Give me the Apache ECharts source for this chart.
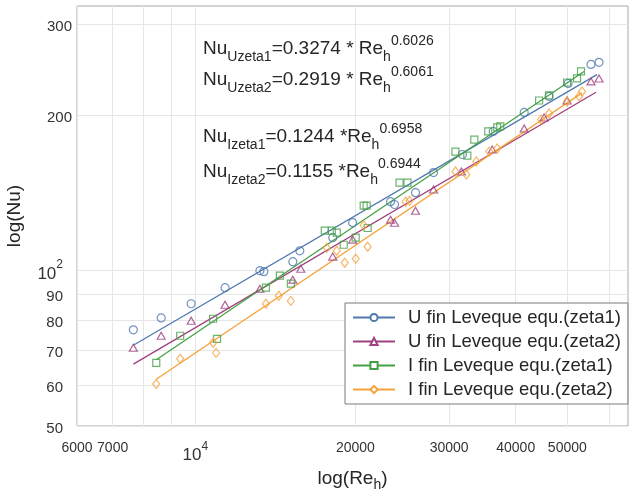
<!DOCTYPE html>
<html><head><meta charset="utf-8">
<script src="https://cdn.jsdelivr.net/npm/echarts@6/dist/echarts.min.js"></script>
<style>html,body{margin:0;padding:0;background:#fff}#c{width:633px;height:489px}</style>
</head><body><div id="c"></div>
<script>
// ---- data ----
const seriesNames = ['U fin Leveque equ.(zeta1)','U fin Leveque equ.(zeta2)','I fin Leveque equ.(zeta1)','I fin Leveque equ.(zeta2)'];

const reU1 = [7655,8635,9829,11381,13232,13462,15257,15725,18132,19765,23281,23687,25935,28035,31761,36290,41495,46213,50165,55389,57338];
const nuU1 = [76.8,81.0,86.3,92.7,100.0,99.6,104.1,109.3,115.9,123.9,136.1,134.4,141.7,155.0,168.0,186.2,202.7,217.8,230.7,251.2,253.5];

const reU2 = [7655,8635,9829,11381,13232,15257,15793,18132,19765,23281,23687,25935,28035,31623,36140,41495,45224,49946,55389,57338];
const nuU2 = [70.9,74.8,80.0,85.9,92.3,96.1,100.9,106.5,114.9,125.6,123.9,130.7,143.7,155.7,171.8,188.7,198.2,213.8,232.8,235.9];

const reI1 = [8453,9374,10807,10995,13581,14426,15126,17518,18056,18449,19011,20022,20726,20995,21086,24206,25054,30823,32448,33441,35522,36922,37411,44259,46213,49946,52141,53053];
const nuI1 = [66.3,74.8,80.7,73.8,92.7,97.8,94.4,119.6,119.6,118.5,112.3,115.9,133.7,133.7,121.0,148.2,148.2,170.2,167.2,179.6,186.2,189.6,190.4,213.8,218.8,231.7,235.9,243.4];

const reI2 = [8453,9374,10807,10947,13581,14363,15126,17671,18449,19095,20022,20726,21086,24838,25269,30823,32314,33734,35669,36922,44640,46213,49946,52602,53285];
const nuI2 = [60.3,67.5,72.5,69.3,86.3,89.4,87.4,110.8,109.3,103.6,105.5,122.5,111.3,136.1,136.7,155.7,153.6,162.8,170.2,172.6,196.4,201.8,212.9,217.8,222.6];

// fitted power-law lines (end points)
const fitReU1 = [7655, 56850]; const fitNuU1 = [71.7, 240.0];
const fitReU2 = [7655, 56600]; const fitNuU2 = [65.9, 221.8];
const fitReI1 = [8453, 53730]; const fitNuI1 = [67.2, 243.3];
const fitReI2 = [8453, 53280]; const fitNuI2 = [61.6, 221.2];

// ticks
const xGridTicks = [6000,7000,8000,9000,10000,20000,30000,40000,50000,60000];
const xTickLabels = [6000,7000,10000,20000,30000,40000,50000];
const yGridTicks = [50,60,70,80,90,100,200,300];
const yTickLabels = [50,60,70,80,90,100,200,300];

// equation annotations
const eqSub = ['Uzeta1','Uzeta2','Izeta1','Izeta2'];
const eqCoef = ['0.3274','0.2919','0.1244','0.1155'];
const eqOp = [' * ',' * ',' *',' *'];
const eqExp = ['0.6026','0.6061','0.6958','0.6944'];

// ---- styling ----
const colors = ['#4f78ad','#a0407e','#45a045','#f5a33d'];
const symbols = ['circle','triangle','rect','diamond'];
const symSizes = [8,[8,7],7,[7,9]];
const FONT = 'Liberation Sans, Arial, sans-serif';

function zip(a,b){ return a.map((v,i)=>[v,b[i]]); }
const pts = [zip(reU1,nuU1), zip(reU2,nuU2), zip(reI1,nuI1), zip(reI2,nuI2)];
const fits = [zip(fitReU1,fitNuU1), zip(fitReU2,fitNuU2), zip(fitReI1,fitNuI1), zip(fitReI2,fitNuI2)];

const series = [];
for (let i=0;i<4;i++){
  series.push({
    name: seriesNames[i], type:'line', data: fits[i], showSymbol:false,
    symbol: 'empty' + symbols[i].charAt(0).toUpperCase() + symbols[i].slice(1),
    lineStyle:{color:colors[i], width:1.3}, itemStyle:{color:colors[i]},
    silent:true, animation:false, z:2
  });
}
for (let i=0;i<4;i++){
  series.push({
    name: seriesNames[i], type:'scatter', data: pts[i],
    symbol: symbols[i], symbolSize: symSizes[i],
    itemStyle:{color:'rgba(255,255,255,0)', borderColor:colors[i], borderWidth:1.2},
    animation:false, z:3
  });
}

const graphics = [];
const eqY = [34, 65, 122, 157];
for (let i=0;i<4;i++){
  graphics.push({
    type:'text', x:203, y:eqY[i], z:10,
    style:{
      text: '{n|Nu}{s|' + eqSub[i] + '}{n|=' + eqCoef[i] + eqOp[i] + 'Re}{s|h}{p|' + eqExp[i] + '}',
      fill:'#262626', fontFamily: FONT, align:'left', verticalAlign:'top',
      rich:{
        n:{fontSize:19, lineHeight:30, verticalAlign:'middle', fontFamily:FONT, fill:'#262626'},
        s:{fontSize:14, lineHeight:16, verticalAlign:'bottom', fontFamily:FONT, fill:'#262626'},
        p:{fontSize:14, lineHeight:16, verticalAlign:'top', fontFamily:FONT, fill:'#262626'}
      }
    }
  });
}

const option = {
  animation:false,
  backgroundColor:'#fff',
  grid:{left:77, right:5, top:6, bottom:63, show:true, borderColor:'#a8a8a8', borderWidth:1,
        containLabel:false, outerBoundsMode:'none'},
  xAxis:{
    type:'log', logBase:10, min:6000, max:65000,
    name:'{a|log(Re}{s|h}{a|)}', nameLocation:'middle', nameGap:34,
    nameTextStyle:{rich:{
      a:{fontSize:19, lineHeight:28, verticalAlign:'middle', fontFamily:FONT, color:'#262626'},
      s:{fontSize:14, lineHeight:14, verticalAlign:'bottom', fontFamily:FONT, color:'#262626'}
    }},
    axisLine:{show:false}, axisTick:{show:false, customValues:xGridTicks},
    splitLine:{show:true, lineStyle:{color:'#e6e6e6', width:1}},
    minorSplitLine:{show:false},
    axisLabel:{
      customValues:xTickLabels, margin:15, color:'#333',
      formatter:function(v){ const r=Math.round(v); if (Math.abs(r-10000)<1) return '{st| }{big|10}{sup|4}'; return '{n|'+r+'}'; },
      rich:{
        n:{fontSize:14, lineHeight:14, fontFamily:FONT, color:'#333'},
        st:{fontSize:1, lineHeight:23, verticalAlign:'middle'},
        big:{fontSize:17, lineHeight:17, verticalAlign:'bottom', fontFamily:FONT, color:'#333'},
        sup:{fontSize:12, lineHeight:12, verticalAlign:'top', fontFamily:FONT, color:'#333'}
      }
    }
  },
  yAxis:{
    type:'log', logBase:10, min:50, max:326,
    name:'log(Nu)', nameLocation:'middle', nameGap:43,
    nameTextStyle:{fontSize:19, lineHeight:22, fontFamily:FONT, color:'#262626'},
    axisLine:{show:false}, axisTick:{show:false, customValues:yGridTicks},
    splitLine:{show:true, lineStyle:{color:'#e6e6e6', width:1}},
    axisLabel:{
      customValues:yTickLabels, margin:5, color:'#333',
      formatter:function(v){ const r=Math.round(v); if (r===100) return '{st| }{big|10}{sup|2}'; if (r>=200) return '{n|'+r+'}'; return '{p|'+r+'}'; },
      rich:{
        n:{fontSize:15, lineHeight:15, fontFamily:FONT, color:'#333', padding:[5,0,0,0]},
        p:{fontSize:15, lineHeight:15, fontFamily:FONT, color:'#333', padding:[5,9,0,0]},
        st:{fontSize:1, lineHeight:24, verticalAlign:'middle'},
        big:{fontSize:17, lineHeight:4, verticalAlign:'bottom', fontFamily:FONT, color:'#333'},
        sup:{fontSize:12, lineHeight:22, verticalAlign:'top', fontFamily:FONT, color:'#333', padding:[0,9,0,0]}
      }
    }
  },
  legend:{
    data: seriesNames, orient:'vertical', left:345, top:303,
    padding:[5,7,5,7], itemWidth:42, itemHeight:9, itemGap:5,
    borderColor:'#7a7a7a', borderWidth:1, backgroundColor:'#fff',
    formatter:function(name){ return '{a|' + name + '}'; },
    textStyle:{fontSize:18.5, fontFamily:FONT, color:'#262626',
      rich:{a:{fontSize:18.5, fontFamily:FONT, color:'#262626', padding:[0,0,0,8]}}},
    selectedMode:false
  },
  graphic: graphics,
  series: series
};
const chart = echarts.init(document.getElementById('c'), null, {renderer:'canvas'});
chart.setOption(option);
</script>
</body></html>
